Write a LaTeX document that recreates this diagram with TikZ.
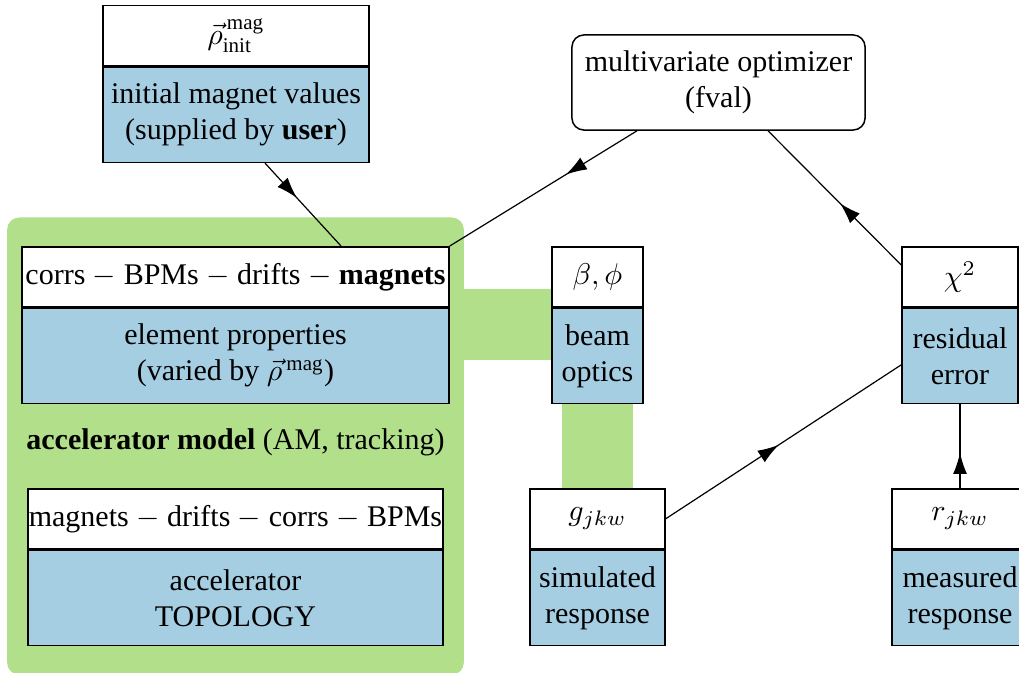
\documentclass[tikz,border=0pt]{standalone}
\usepackage{fontspec}
\setmainfont{LiberationSerif}[
    Extension=.ttf,
    UprightFont=*-Regular,
    BoldFont=*-Bold,
    ItalicFont=*-Italic,
    BoldItalicFont=*-BoldItalic]
\usepackage{amsmath}
\usetikzlibrary{positioning}
\usetikzlibrary{calc}
\usetikzlibrary{fit}
\usetikzlibrary{arrows.meta}
\usetikzlibrary{decorations.markings}
\definecolor{paired blue}{HTML}{A6CEE3}
\definecolor{paired green}{HTML}{B2DF8A}
\colorlet{body colour}{paired blue}
\colorlet{model colour}{paired green}
\tikzset{
    % Filled triangle, sitting half way along a connector
    >={Latex[length=7pt, width=4.6pt]},
%
    % Fills
    body fill/.style={fill=body colour},
    model fill/.style={fill=model colour},
    % Connectors carry their arrow in the middle
    flow/.style={draw, postaction={decorate},
        decoration={markings, mark=at position #1 with {\arrow{>}}}},
    flow/.default=0.45,
%
    every node/.style={align=center},
}
\pgfdeclarelayer{background}
\pgfsetlayers{background,main}

\begin{document}
\begin{tikzpicture}[
    x=0.3333pt, y=-0.3333pt,
    head/.style={draw, fill=white, line width=0.5pt, inner sep=0,
        minimum height=20pt, anchor=north},
    body/.style={draw, body fill, line width=0.5pt, inner sep=0,
        minimum height=31.7pt, anchor=north},
]

\useasboundingbox (0,0) rectangle (1019,673);
\clip (0,0) rectangle (1019,673);

% Two part box: symbol on top, meaning underneath
% #1 name, #2 centre x, #3 top y, #4 width, #5 head text, #6 body text
\newcommand{\twopart}[6]{
    \node [head, minimum width=#4*0.3333pt] (#1 head) at (#2,#3) {#5};
    \node [body, minimum width=#4*0.3333pt] (#1 body) at (#1 head.south) {#6};
}

\twopart{rho}{236}{5}{266}{$\vec{\rho}^{\,\mathrm{mag}}_{\mathrm{init}}$}
    {initial magnet values\\(supplied by \textbf{user})}
\twopart{corrs}{235.5}{246}{427}{corrs $-$ BPMs $-$ drifts $-$ \textbf{magnets}}
    {element properties\\(varied by $\vec{\rho}^{\,\mathrm{mag}}$)}
\twopart{topo}{235.5}{488}{415}{magnets $-$ drifts $-$ corrs $-$ BPMs}
    {accelerator\\TOPOLOGY}
\twopart{beam}{597.5}{246}{91}{$\beta, \phi$}{beam\\optics}
\twopart{g}{597.5}{488}{135}{$g_{jkw}$}{simulated\\response}
\twopart{chi}{960}{246}{116}{$\chi^2$}{residual\\error}
\twopart{r}{960}{488}{136}{$r_{jkw}$}{measured\\response}

\node [draw, fill=white, line width=0.5pt, rounded corners=4pt,
    minimum width=97.7pt, minimum height=31.7pt] (opt) at (718.5,82.5)
    {multivariate optimizer\\(fval)};

\node (am label) at (235.5,442) {\textbf{accelerator model} (AM, tracking)};

% Green model area with its links to the optics and the simulation
\coordinate (band top) at (0,289);
\coordinate (band bottom) at (0,360);
\begin{pgfonlayer}{background}
    \node [model fill, rounded corners=4pt, inner xsep=4.7pt, inner ysep=9.5pt,
        fit={(corrs head) (topo body)}] (am) {};
    \fill [model fill] (am.east |- band top) rectangle (beam head.west |- band bottom);
    \fill [model fill] ($(beam body.south)+(-35.5,0)$) rectangle ($(g head.north)+(35.5,0)$);
\end{pgfonlayer}

% The fit loop
\draw [flow=0.42] ($(rho body.south)+(29,0)$) -- ($(corrs head.north)+(105.5,0)$);
\draw [flow=0.38] ($(opt.south)+(-81.5,0)$) -- (corrs head.north east);
\draw [flow=0.46] ($(chi head.north west)+(0,19)$) -- ($(opt.south)+(49.5,0)$);
\draw [flow=0.48] (g head.east) -- ($(chi body.west)+(0,9)$);
\draw [flow=0.42] (r head.north) -- (chi body.south);

\end{tikzpicture}
\end{document}
